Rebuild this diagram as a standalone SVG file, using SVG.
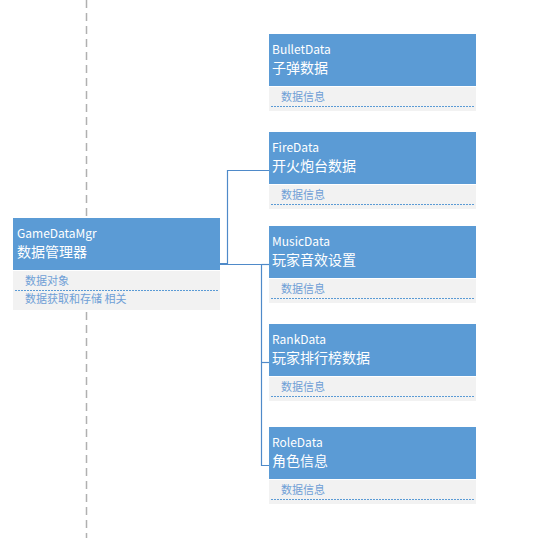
<svg xmlns="http://www.w3.org/2000/svg" width="544" height="538" viewBox="0 0 544 538">
<style>
.hd{fill:#5b9bd5}
.bd{fill:#f2f2f2}
.en{font-family:"Noto Sans CJK SC","Open Sans",sans-serif;font-size:12px;fill:#ffffff}
.cn{font-family:"Noto Sans CJK SC",sans-serif;font-size:14px;fill:#ffffff}
.it{font-family:"Noto Sans CJK SC",sans-serif;font-size:11px;fill:#6f9fd6}
.dot{stroke:#5b9bd5;stroke-width:1;stroke-dasharray:2 1;fill:none;shape-rendering:crispEdges}
.con{stroke:#4f8ac9;stroke-width:1.2;fill:none}
</style>
<rect width="544" height="538" fill="#ffffff"/>
<line x1="86.5" y1="0" x2="86.5" y2="538" stroke="#b0b0b0" stroke-width="1.5" stroke-dasharray="8 5"/>
<g id="connectors">
<polyline class="con" points="220,263.5 227.5,263.5 227.5,170.5 270,170.5"/>
<polyline class="con" points="220,264.5 261.5,264.5 261.5,465.5 270,465.5"/>
<line class="con" x1="261.5" y1="264.5" x2="270" y2="264.5"/>
<line class="con" x1="261.5" y1="362.5" x2="270" y2="362.5"/>
</g>
<g id="GameDataMgr">
<rect class="hd" x="13" y="218" width="207" height="52"/>
<rect class="bd" x="13" y="271" width="207" height="39"/>
<text class="en" x="17" y="238">GameDataMgr</text>
<text class="cn" x="17" y="257">数据管理器</text>
<text class="it" x="25" y="285">数据对象</text>
<line class="dot" x1="15" y1="290.5" x2="218" y2="290.5"/>
<text class="it" x="25" y="303">数据获取和存储 相关</text>
</g>
<g id="BulletData">
<rect class="hd" x="269" y="34" width="207" height="52"/>
<rect class="bd" x="269" y="87" width="207" height="24"/>
<text class="en" x="272" y="54">BulletData</text>
<text class="cn" x="272" y="73">子弹数据</text>
<text class="it" x="281" y="101">数据信息</text>
<line class="dot" x1="271" y1="106.5" x2="474" y2="106.5"/>
</g>
<g id="FireData">
<rect class="hd" x="269" y="132" width="207" height="52"/>
<rect class="bd" x="269" y="185" width="207" height="24"/>
<text class="en" x="272" y="152">FireData</text>
<text class="cn" x="272" y="171">开火炮台数据</text>
<text class="it" x="281" y="199">数据信息</text>
<line class="dot" x1="271" y1="204.5" x2="474" y2="204.5"/>
</g>
<g id="MusicData">
<rect class="hd" x="269" y="226" width="207" height="52"/>
<rect class="bd" x="269" y="279" width="207" height="24"/>
<text class="en" x="272" y="246">MusicData</text>
<text class="cn" x="272" y="265">玩家音效设置</text>
<text class="it" x="281" y="293">数据信息</text>
<line class="dot" x1="271" y1="298.5" x2="474" y2="298.5"/>
</g>
<g id="RankData">
<rect class="hd" x="269" y="324" width="207" height="52"/>
<rect class="bd" x="269" y="377" width="207" height="24"/>
<text class="en" x="272" y="344">RankData</text>
<text class="cn" x="272" y="363">玩家排行榜数据</text>
<text class="it" x="281" y="391">数据信息</text>
<line class="dot" x1="271" y1="396.5" x2="474" y2="396.5"/>
</g>
<g id="RoleData">
<rect class="hd" x="269" y="427" width="207" height="52"/>
<rect class="bd" x="269" y="480" width="207" height="24"/>
<text class="en" x="272" y="447">RoleData</text>
<text class="cn" x="272" y="466">角色信息</text>
<text class="it" x="281" y="494">数据信息</text>
<line class="dot" x1="271" y1="499.5" x2="474" y2="499.5"/>
</g>
</svg>
